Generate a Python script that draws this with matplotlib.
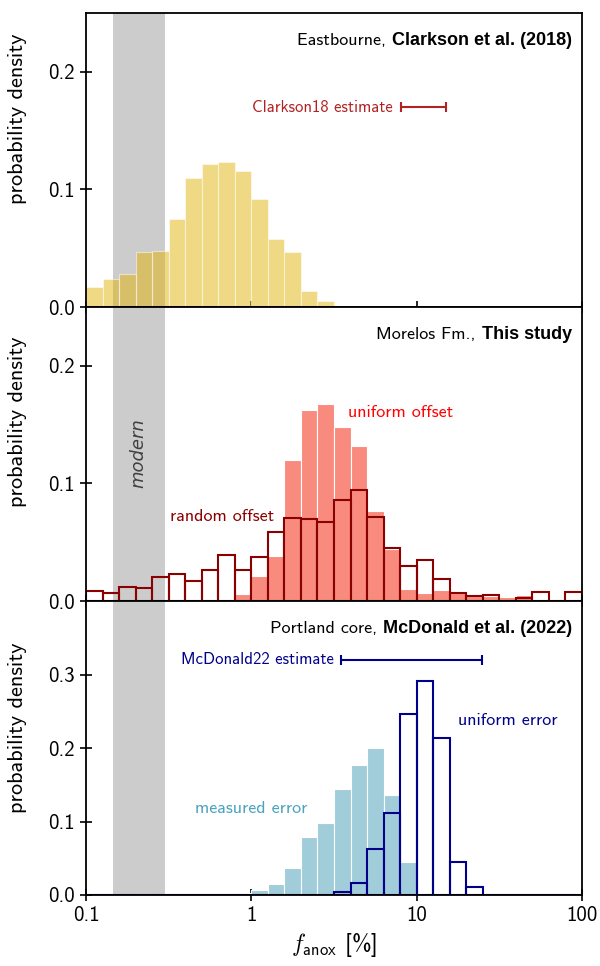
import numpy as np
import matplotlib
matplotlib.use("Agg")
import matplotlib.pyplot as plt
from matplotlib.ticker import NullLocator
from matplotlib.offsetbox import AnchoredOffsetbox, HPacker, TextArea

plt.rcParams['font.family'] = ['cmss10', 'DejaVu Sans']
plt.rcParams['mathtext.fontset'] = 'cm'
plt.rcParams['axes.unicode_minus'] = False

# --- bins: 10 per decade, 0.1 - 100 % ---
bin_edges = np.logspace(-1, 2, 31)
bin_mid = np.sqrt(bin_edges[:-1] * bin_edges[1:])

# --- histogram heights (probability density per bin) ---
eastbourne = [0.017, 0.024, 0.028, 0.047, 0.048, 0.075, 0.110, 0.122, 0.123, 0.116,
              0.092, 0.058, 0.047, 0.014, 0.005, 0.0, 0.001, 0.0, 0.0, 0.0,
              0.0, 0.0, 0.0, 0.0, 0.0, 0.0, 0.0, 0.0, 0.0, 0.0]

morelos_random = [0.0086, 0.0072, 0.0115, 0.0112, 0.0204, 0.023, 0.0172, 0.0267, 0.039, 0.0267,
                  0.0374, 0.0589, 0.071, 0.0701, 0.067, 0.0862, 0.0945, 0.0718, 0.0448, 0.030,
                  0.035, 0.019, 0.0066, 0.0043, 0.0055, 0.0, 0.0023, 0.0075, 0.0, 0.008]

morelos_uniform = [0.0, 0.0, 0.0, 0.0, 0.0, 0.0, 0.0, 0.0, 0.0, 0.0063,
                   0.0216, 0.0379, 0.1198, 0.1624, 0.1672, 0.148, 0.1319, 0.0767, 0.044, 0.0103,
                   0.0066, 0.0092, 0.0066, 0.004, 0.004, 0.0037, 0.0052, 0.0, 0.0, 0.0014]

portland_measured = [0.0, 0.0, 0.0, 0.002, 0.0, 0.001, 0.0, 0.0, 0.0, 0.0022,
                     0.0065, 0.0145, 0.037, 0.079, 0.0973, 0.144, 0.1765, 0.200, 0.1357, 0.0443,
                     0.0027, 0.0, 0.0, 0.0, 0.0, 0.0, 0.0, 0.0, 0.0, 0.0]

portland_uniform = [0.0, 0.0, 0.0, 0.0, 0.0, 0.0, 0.0, 0.0, 0.0, 0.0,
                    0.0, 0.0, 0.0, 0.0, 0.0, 0.0036, 0.0158, 0.062, 0.1122, 0.2466,
                    0.2905, 0.214, 0.0448, 0.0109, 0.0, 0.0, 0.0, 0.0, 0.0, 0.0]

# modern-ocean anoxic fraction and published estimates [%]
modern_range = (0.145, 0.30)
clarkson_est = (8.0, 15.0)
mcdonald_est = (3.5, 25.0)

xticks = [0.1, 1, 10, 100]
xtick_labels = ['0.1', '1', '10', '100']
yticks_top = [0.0, 0.1, 0.2]
yticks_bot = [0.0, 0.1, 0.2, 0.3]

fig, axes = plt.subplots(3, 1, sharex=True, figsize=(6, 9.66), dpi=100)
fig.subplots_adjust(left=0.1433, right=0.97, top=0.9865, bottom=0.0735, hspace=0)

TICK_FS = 15
LABEL_FS = 16
TITLE_FS = 13
NOTE_FS = 13
EST_FS = 12


def panel_title(ax, plain, bold):
    parts = HPacker(children=[
        TextArea(plain, textprops=dict(fontsize=TITLE_FS, family='cmss10')),
        TextArea(bold, textprops=dict(fontsize=TITLE_FS, family='Liberation Sans',
                                      weight='bold')),
    ], align='baseline', pad=0, sep=0)
    box = AnchoredOffsetbox(loc='upper right', child=parts, pad=0, borderpad=0,
                            frameon=False, bbox_to_anchor=(0.98, 0.935),
                            bbox_transform=ax.transAxes)
    ax.add_artist(box)


def estimate_bar(ax, rng, y, color, label):
    lo, hi = rng
    mid = np.sqrt(lo * hi)
    ax.errorbar([mid], [y], xerr=[[mid - lo], [hi - mid]], fmt='none', ecolor=color,
                elinewidth=1.5, capsize=3.6, capthick=1.5, zorder=4)
    ax.text(lo * 0.9, y, label, color=color, fontsize=EST_FS, ha='right', va='center')


# y-label heights (axes fraction) per panel
ylabel_y = [0.64, 0.61, 0.57]

for ax, ly in zip(axes, ylabel_y):
    ax.axvspan(*modern_range, color='#cccccc', lw=0, zorder=0)
    ax.set_xscale('log')
    ax.set_xlim(0.1, 100)
    ax.xaxis.set_minor_locator(NullLocator())
    ax.tick_params(direction='inout', length=9, width=1.2, labelsize=TICK_FS)
    for s in ax.spines.values():
        s.set_linewidth(1.3)
    ax.set_ylabel('probability density', fontsize=LABEL_FS)
    ax.yaxis.set_label_coords(-0.118, ly)

# Eastbourne
ax = axes[0]
ax.hist(bin_mid, bins=bin_edges, weights=eastbourne, color='#e3b40a', alpha=0.5,
        edgecolor='white', linewidth=0.8, zorder=2)
ax.set_ylim(0, 0.25)
ax.set_yticks(yticks_top, labels=[f'{v:.1f}' for v in yticks_top])
panel_title(ax, 'Eastbourne, ', 'Clarkson et al. (2018)')
estimate_bar(ax, clarkson_est, 0.17, '#b22222', 'Clarkson18 estimate')

# Morelos
ax = axes[1]
ax.hist(bin_mid, bins=bin_edges, weights=morelos_uniform, color='#f88a7e',
        edgecolor='white', linewidth=0.8, zorder=2)
ax.hist(bin_mid, bins=bin_edges, weights=morelos_random, histtype='bar', fill=False,
        edgecolor='#8b0000', linewidth=1.5, zorder=2.3)
ax.set_ylim(0, 0.25)
ax.set_yticks(yticks_top, labels=[f'{v:.1f}' for v in yticks_top])
panel_title(ax, 'Morelos Fm., ', 'This study')
ax.text(3.83, 0.160, 'uniform offset', color='red', fontsize=NOTE_FS, ha='left', va='center')
ax.text(1.37, 0.0718, 'random offset', color='#8b0000', fontsize=NOTE_FS,
        ha='right', va='center')
ax.text(np.sqrt(modern_range[0] * modern_range[1]), 0.126, 'modern', rotation=90,
        family='DejaVu Sans', style='italic', color='#404040', fontsize=NOTE_FS,
        ha='center', va='center')

# Portland
ax = axes[2]
ax.hist(bin_mid, bins=bin_edges, weights=portland_measured, color='#a0cdd9',
        edgecolor='white', linewidth=0.8, zorder=2)
ax.hist(bin_mid, bins=bin_edges, weights=portland_uniform, histtype='bar', fill=False,
        edgecolor='#00008b', linewidth=1.5, zorder=2.3)
ax.set_ylim(0, 0.4)
ax.set_yticks(yticks_bot, labels=[f'{v:.1f}' for v in yticks_bot])
panel_title(ax, 'Portland core, ', 'McDonald et al. (2022)')
estimate_bar(ax, mcdonald_est, 0.32, '#00008b', 'McDonald22 estimate')
ax.text(17.7, 0.237, 'uniform error', color='#00008b', fontsize=NOTE_FS, ha='left', va='center')
ax.text(0.457, 0.118, 'measured error', color='#4aa3c0', fontsize=NOTE_FS,
        ha='left', va='center')

ax.set_xticks(xticks, labels=xtick_labels)
ax.set_xlabel(r'$f_\mathsf{anox}$ [%]', fontsize=17)

fig.savefig('out.png', dpi=100)
